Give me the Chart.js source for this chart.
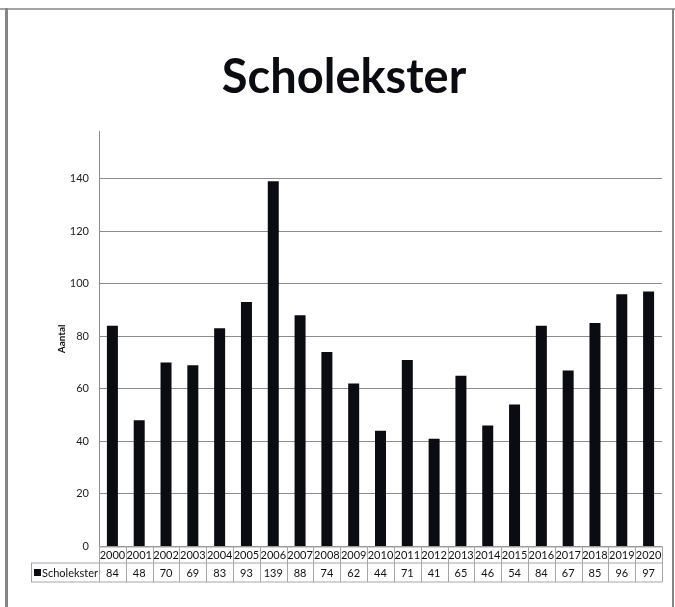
<!DOCTYPE html>
<html>
<head>
<meta charset="utf-8">
<script src="https://cdn.jsdelivr.net/npm/chart.js@4"></script>
<style>
  html, body { margin: 0; padding: 0; background: #fff; }
  #wrap { width: 675px; height: 607px; }
</style>
</head>
<body>
<div id="wrap"><canvas id="myChart" width="675" height="607"></canvas></div>
<script>
/* DATA */
var jaren = ['2000', '2001', '2002', '2003', '2004', '2005', '2006', '2007', '2008', '2009', '2010',
             '2011', '2012', '2013', '2014', '2015', '2016', '2017', '2018', '2019', '2020'];
var scholekster = [84, 48, 70, 69, 83, 93, 139, 88, 74, 62, 44, 71, 41, 65, 46, 54, 84, 67, 85, 96, 97];
var reeksNaam = 'Scholekster';
var titel = 'Scholekster';
var asTitel = 'Aantal';
/* DATA */

var lijnKleur = '#8c8c8c';
var tabelKleur = '#a6a6a6';
var fontNaam = 'Lato, "Open Sans", sans-serif';

// kader rond de grafiek
var kaderPlugin = {
    id: 'kader',
    beforeDraw: function(chart) {
        var ctx = chart.ctx;
        ctx.save();
        ctx.fillStyle = '#fff';
        ctx.fillRect(0, 0, chart.width, chart.height);
        ctx.fillStyle = '#a4a4a4';
        ctx.fillRect(0, 8, 675, 2);
        ctx.fillStyle = '#858585';
        ctx.fillRect(5, 8, 3, 599);
        ctx.fillRect(672, 9, 2, 598);
        ctx.restore();
    }
};

// datatabel onder de x-as
var tabelPlugin = {
    id: 'tabel',
    afterDraw: function(chart) {
        var ctx = chart.ctx;
        var x = chart.scales.x;
        var area = chart.chartArea;
        var n = jaren.length;
        var breedte = (area.right - area.left) / n;
        var y0 = area.bottom, y1 = y0 + 16.5, y2 = y1 + 19;
        var links = 31;

        ctx.save();
        ctx.strokeStyle = tabelKleur;
        ctx.lineWidth = 1;
        ctx.beginPath();
        ctx.moveTo(area.left, y0 + 0.5); ctx.lineTo(area.right, y0 + 0.5);
        ctx.moveTo(links, y1); ctx.lineTo(area.right, y1);
        ctx.moveTo(links, y2); ctx.lineTo(area.right, y2);
        ctx.moveTo(links + 0.5, y1); ctx.lineTo(links + 0.5, y2);
        for (var i = 0; i <= n; i++) {
            var xx = Math.round(area.left + i * breedte) + 0.5;
            ctx.moveTo(xx, y0); ctx.lineTo(xx, y2);
        }
        ctx.stroke();

        ctx.fillStyle = '#111';
        ctx.font = '11px ' + fontNaam;
        ctx.textAlign = 'center';
        ctx.textBaseline = 'middle';
        for (var j = 0; j < n; j++) {
            var cx = x.getPixelForValue(j);
            ctx.fillText(jaren[j], cx, (y0 + y1) / 2 + 0.5);
            ctx.fillText(String(scholekster[j]), cx, (y1 + y2) / 2 + 0.5);
        }

        // legenda-sleutel en naam
        ctx.fillStyle = '#0b0b12';
        ctx.fillRect(links + 3, (y1 + y2) / 2 - 3.5, 7, 7);
        ctx.fillStyle = '#111';
        ctx.textAlign = 'left';
        ctx.fillText(reeksNaam, links + 11, (y1 + y2) / 2 + 0.5);
        ctx.restore();
    }
};

var config = {
    type: 'bar',
    data: {
        labels: jaren,
        datasets: [
            { label: reeksNaam, data: scholekster, backgroundColor: '#0b0b12', borderWidth: 0,
              categoryPercentage: 1.0, barPercentage: 0.41 }
        ]
    },
    options: {
        responsive: false,
        animation: false,
        layout: { padding: { left: 26, right: 13, top: 0, bottom: 60.5 } },
        plugins: {
            legend: { display: false },
            tooltip: { enabled: false },
            title: {
                display: true,
                text: titel,
                color: '#0b0b12',
                font: { family: fontNaam, size: 47, weight: 'bold', lineHeight: 1.2 },
                padding: { top: 50, bottom: 24.8 }
            }
        },
        scales: {
            x: { display: false },
            y: {
                min: 0,
                max: 158,
                afterBuildTicks: function(scale) {
                    scale.ticks = scale.ticks.filter(function(t) { return t.value % 20 === 0; });
                },
                afterFit: function(scale) { scale.width = 73; },
                ticks: { stepSize: 20, color: '#222', padding: 10, font: { family: fontNaam, size: 11 } },
                grid: { color: lijnKleur, drawTicks: false, lineWidth: 1 },
                border: { color: lijnKleur, width: 1 },
                title: {
                    display: true,
                    text: asTitel,
                    color: '#111',
                    font: { family: fontNaam, size: 10, weight: 'bold' },
                    padding: { top: 30, bottom: 0 }
                }
            }
        }
    },
    plugins: [kaderPlugin, tabelPlugin]
};

window.onload = function() {
    var ctx = document.getElementById('myChart').getContext('2d');
    window.myChart = new Chart(ctx, config);
};
</script>
</body>
</html>
